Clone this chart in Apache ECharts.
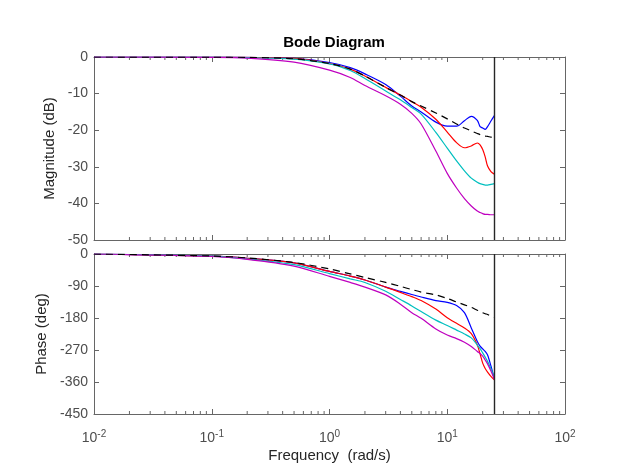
<!DOCTYPE html>
<html>
<head>
<meta charset="utf-8">
<script src="https://cdn.jsdelivr.net/npm/echarts@6/dist/echarts.min.js"></script>
<style>
  html, body { margin: 0; padding: 0; background: #fff; }
  #chart { width: 623px; height: 467px; }
</style>
</head>
<body>
<div id="chart"></div>
<script>
// frequency points (rad/s), last one is the Nyquist frequency
const freq = [0.01, 0.1, 0.2, 0.5, 1, 1.5, 2, 3, 4, 5, 6, 8, 10, 12, 14, 16, 18, 19, 20, 21, 22, 23.5, 25.13]
const nyquist = 25.13

// magnitude (dB)
const magRef     = [0, -0.05, -0.1, -0.5, -1.8, -3.3, -5.2, -8.3, -10.4, -12.2, -13.4, -15.3, -16.9, -18.3, -19.4, -20.2, -20.9, -21.2, -21.4, -21.6, -21.7, -21.9, -22.0]
const magBlue    = [0, -0.05, -0.1, -0.4, -1.5, -2.9, -4.6, -7.5, -10.7, -13.4, -15.0, -17.8, -18.9, -18.9, -17.4, -16.2, -17.3, -19.0, -19.4, -19.8, -19.0, -17.5, -16.0]
const magRed     = [0, -0.05, -0.1, -0.4, -1.8, -3.3, -5.2, -8.3, -10.4, -12.2, -13.7, -17.0, -20.5, -23.4, -24.8, -24.3, -23.5, -24.0, -25.3, -27.3, -29.8, -31.3, -32.0]
const magCyan    = [0, -0.05, -0.15, -0.6, -1.9, -3.7, -5.9, -9.3, -11.7, -13.8, -15.6, -20.6, -24.9, -28.4, -31.1, -33.1, -34.2, -34.6, -34.8, -35.0, -35.0, -34.8, -34.6]
const magMagenta = [0, -0.1, -0.3, -1.4, -3.6, -5.6, -7.8, -10.6, -12.9, -15.4, -18.3, -25.7, -31.8, -35.8, -38.7, -40.7, -42.1, -42.5, -42.8, -43.0, -43.0, -43.1, -43.1]

// phase (deg)
const phRef     = [0, -5.6, -11, -24, -42, -56, -66, -80, -91, -100, -107, -115, -125, -135, -143, -150, -158, -161, -165, -168, -170, -175, -179]
const phBlue    = [0, -6, -12, -25, -49, -62, -73, -93, -105, -114, -121, -131, -136, -145, -165, -208, -246, -259, -267, -274, -284, -315, -352]
const phRed     = [0, -6, -12, -25, -49, -62, -73, -93, -108, -120, -131, -155, -179, -195, -208, -224, -256, -281, -307, -322, -332, -344, -354]
const phCyan    = [0, -6, -14, -30, -55, -70, -80, -105, -128, -146, -162, -186, -201, -214, -225, -236, -256, -266, -278, -290, -302, -323, -349]
const phMagenta = [0, -7, -15, -34, -63, -80, -93, -115, -141, -165, -181, -211, -228, -238, -248, -260, -274, -280, -287, -298, -309, -329, -352]

const font = 'Liberation Sans, Arial, Helvetica, sans-serif'
const axisColor = '#666666'
const labelColor = '#4d4d4d'
const minorTicks = []
for (let d = -2; d < 2; d++) {
    for (let k = 2; k <= 9; k++) minorTicks.push(k * Math.pow(10, d))
}

function pairs(ys) {
    return freq.map((f, i) => [f, ys[i]])
}

function line(name, ys, color, gi, dashed) {
    return {
        name: name,
        type: 'line',
        xAxisIndex: gi,
        yAxisIndex: gi,
        data: pairs(ys),
        smooth: 0.3,
        showSymbol: false,
        symbol: 'none',
        animation: false,
        z: dashed ? 4 : 3,
        lineStyle: {color: color, width: 1.2, type: dashed ? [7, 5] : 'solid'}
    }
}

function xAx(gi, bottom) {
    return {
        type: 'log',
        logBase: 10,
        gridIndex: gi,
        position: bottom ? 'bottom' : 'top',
        min: 0.01,
        max: 100,
        splitNumber: 4,
        axisLine: {show: true, onZero: false, lineStyle: {color: axisColor, width: 1}},
        axisTick: {show: true, inside: true, length: 5, lineStyle: {color: axisColor}},
        splitLine: {show: false},
        axisLabel: {
            show: bottom && gi === 1,
            margin: 15,
            color: labelColor,
            fontFamily: font,
            fontSize: 14,
            formatter: v => '{b|10}{s|' + Math.round(Math.log10(v)) + '}',
            rich: {
                b: {fontSize: 14, fontFamily: font, color: labelColor},
                s: {fontSize: 10, fontFamily: font, color: labelColor, padding: [0, 0, 8, 0]}
            }
        },
        name: bottom && gi === 1 ? 'Frequency  (rad/s)' : '',
        nameLocation: 'middle',
        nameGap: 34,
        nameTextStyle: {color: '#262626', fontFamily: font, fontSize: 15}
    }
}

function yAx(gi, left, min, interval, title) {
    return {
        type: 'value',
        gridIndex: gi,
        position: left ? 'left' : 'right',
        min: min,
        max: 0,
        interval: interval,
        axisLine: {show: true, onZero: false, lineStyle: {color: axisColor, width: 1}},
        axisTick: {show: true, inside: true, length: 5, lineStyle: {color: axisColor}},
        splitLine: {show: false},
        axisLabel: {show: left, margin: 6, color: labelColor, fontFamily: font, fontSize: 14},
        name: left ? title : '',
        nameLocation: 'middle',
        nameGap: 34,
        nameRotate: 90,
        nameTextStyle: {color: '#262626', fontFamily: font, fontSize: 15}
    }
}

const series = [
    line('mag blue', magBlue, '#0000ff', 0),
    line('mag red', magRed, '#ff0000', 0),
    line('mag cyan', magCyan, '#00bfbf', 0),
    line('mag magenta', magMagenta, '#bf00bf', 0),
    line('mag ref', magRef, '#000000', 0, true),
    line('ph blue', phBlue, '#0000ff', 1),
    line('ph red', phRed, '#ff0000', 1),
    line('ph cyan', phCyan, '#00bfbf', 1),
    line('ph magenta', phMagenta, '#bf00bf', 1),
    line('ph ref', phRef, '#000000', 1, true)
]
// Nyquist frequency line in both panels
;[0, 5].forEach(i => {
    series[i].markLine = {
        silent: true,
        symbol: 'none',
        animation: false,
        label: {show: false},
        lineStyle: {color: '#262626', width: 1.4, type: 'solid'},
        data: [{xAxis: nyquist}]
    }
})

const chart = echarts.init(document.getElementById('chart'), null, {renderer: 'canvas'})
chart.setOption({
    animation: false,
    backgroundColor: '#ffffff',
    title: {
        text: 'Bode Diagram',
        left: 329,
        top: 30,
        textAlign: 'center',
        textStyle: {fontFamily: font, fontSize: 15, fontWeight: 'bold', color: '#000'}
    },
    grid: [
        {left: 94, top: 57, width: 471, height: 183},
        {left: 94, top: 254, width: 471, height: 160}
    ],
    xAxis: [xAx(0, true), xAx(1, true), xAx(0, false), xAx(1, false)],
    yAxis: [
        yAx(0, true, -50, 10, 'Magnitude (dB)'),
        yAx(1, true, -450, 90, 'Phase (deg)'),
        yAx(0, false, -50, 10),
        yAx(1, false, -450, 90)
    ],
    series: series
})

// minor log ticks (2..9 per decade), placed through the axis scales
const graphics = []
;[0, 1].forEach(gi => {
    const yMin = gi === 0 ? -50 : -450
    const yBot = chart.convertToPixel({yAxisIndex: gi}, yMin)
    const yTop = chart.convertToPixel({yAxisIndex: gi}, 0)
    minorTicks.forEach(v => {
        const x = chart.convertToPixel({xAxisIndex: gi}, v)
        graphics.push({type: 'line', shape: {x1: x, y1: yBot, x2: x, y2: yBot - 3}, style: {stroke: axisColor, lineWidth: 1}, silent: true})
        graphics.push({type: 'line', shape: {x1: x, y1: yTop, x2: x, y2: yTop + 3}, style: {stroke: axisColor, lineWidth: 1}, silent: true})
    })
})
chart.setOption({graphic: graphics})
</script>
</body>
</html>
